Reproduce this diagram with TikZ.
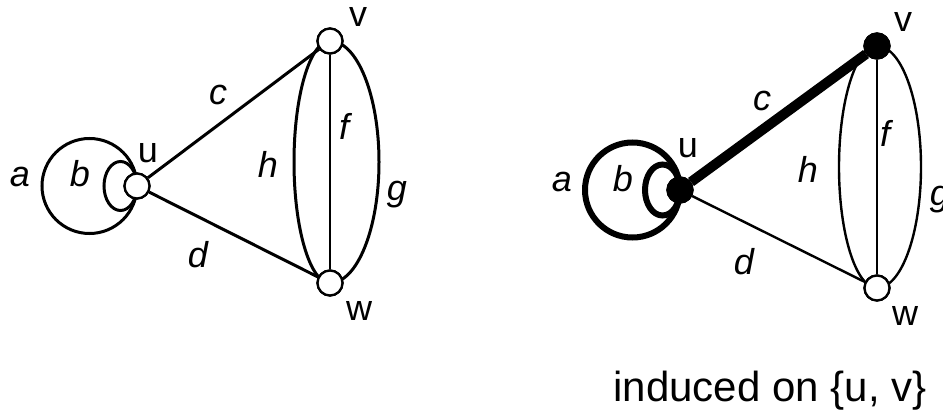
\documentclass[tikz,border=0pt]{standalone}
\usepackage{fontspec}
\setmainfont{Liberation Sans}
\usepackage{tikz}
\usetikzlibrary{positioning}
\tikzset{
  vtx/.style={circle,draw,fill=white,line width=2.3pt,minimum size=25pt,inner sep=0pt},
  vtxon/.style={vtx,fill=black},
  lbl/.style={anchor=base,inner sep=0pt,font=\fontsize{36}{40}\selectfont},
  elbl/.style={lbl,font=\fontsize{36}{40}\selectfont\itshape},
  edgethin/.style={line width=2.4pt},
  edgemid/.style={line width=3pt},
  edgefat/.style={line width=6pt},
  edgefatter/.style={line width=10pt}
}

\begin{document}
\begin{tikzpicture}[x=1pt,y=1pt]
    \useasboundingbox (0,0) rectangle (943,-414);

    \node[vtx] (u1) at (137,-186) {};
    \node[vtx] (v1) at (330,-41) {};
    \node[vtx] (w1) at (330,-283) {};
    \draw[edgemid] (u1.center) arc[start angle=0,end angle=360,radius=47.5];
    \draw[edgemid] (u1.center) arc[start angle=0,end angle=360,x radius=16.5,y radius=24.5];
    \draw[edgemid] (u1) -- (v1);
    \draw[edgemid] (u1) -- (w1);
    \draw[edgethin] (v1) -- (w1);
    \draw[edgemid] (v1.center) arc[start angle=90,end angle=270,x radius=36,y radius=121];
    \draw[edgemid] (v1.center) arc[start angle=90,end angle=-90,x radius=49,y radius=121];
    \node[vtx] at (u1) {};
    \node[vtx] at (v1) {};
    \node[vtx] at (w1) {};
    \node[elbl] (ta1) at (20,-187) {a};
    \node[elbl] (tb1) at (80,-187) {b};
    \node[lbl]  (tu1) at (148,-163) {u};
    \node[elbl] (tc1) at (218,-105) {c};
    \node[elbl] (td1) at (198,-268) {d};
    \node[elbl] (th1) at (268,-178) {h};
    \node[elbl] (tf1) at (344,-140) {f};
    \node[elbl] (tg1) at (397,-201) {g};
    \node[lbl]  (tv1) at (358,-27) {v};
    \node[lbl]  (tw1) at (359,-320) {w};

    \node[vtxon] (u2) at (680,-190) {};
    \node[vtxon] (v2) at (877,-46) {};
    \node[vtx] (w2) at (877,-288) {};
    \draw[edgefat] (u2.center) arc[start angle=0,end angle=360,radius=47.5];
    \draw[edgefat] (u2.center) arc[start angle=0,end angle=360,x radius=17.5,y radius=25.5];
    \draw[edgefatter] (u2) -- (v2);
    \draw[edgethin] (u2) -- (w2);
    \draw[edgethin] (v2) -- (w2);
    \draw[edgethin] (v2.center) arc[start angle=90,end angle=270,x radius=38,y radius=121];
    \draw[edgethin] (v2.center) arc[start angle=90,end angle=-90,x radius=44,y radius=121];
    \node[vtxon] at (u2) {};
    \node[vtxon] at (v2) {};
    \node[vtx] at (w2) {};
    \node[elbl] (ta2) at (562,-192) {a};
    \node[elbl] (tb2) at (623,-192) {b};
    \node[lbl]  (tu2) at (688,-158) {u};
    \node[elbl] (tc2) at (762,-111) {c};
    \node[elbl] (td2) at (744,-275) {d};
    \node[elbl] (th2) at (808,-183) {h};
    \node[elbl] (tf2) at (885,-147) {f};
    \node[elbl] (tg2) at (940,-206) {g};
    \node[lbl]  (tv2) at (903,-32) {v};
    \node[lbl]  (tw2) at (905,-325) {w};

    \node[lbl,font=\fontsize{42}{48}\selectfont] (cap) at (770,-401) {induced on \{u, v\}};
  \end{tikzpicture}
\end{document}
